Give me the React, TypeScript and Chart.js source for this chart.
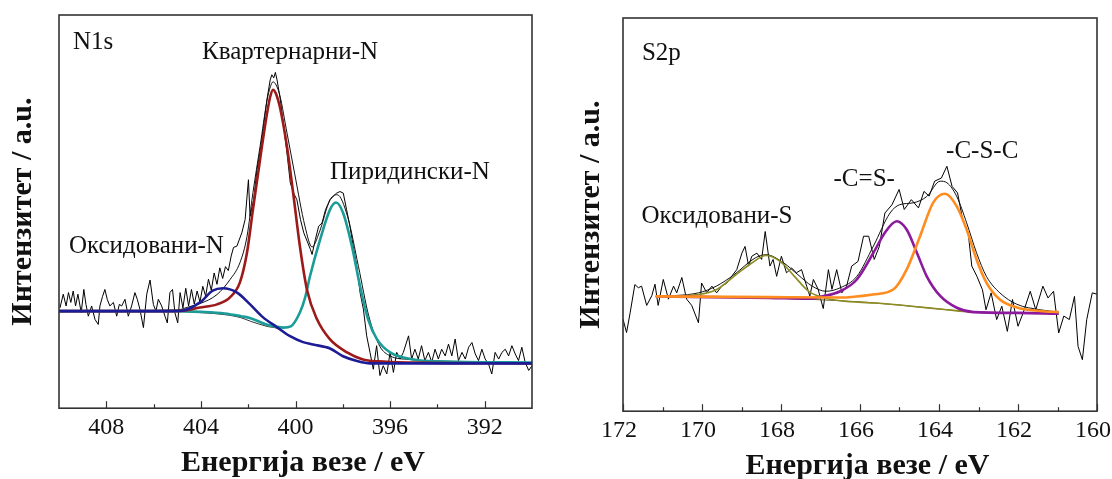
import React, { useEffect, useRef } from "react";
import { Chart, registerables } from "chart.js";

Chart.register(...registerables);

const SERIF = "'Liberation Serif', 'Times New Roman', 'DejaVu Serif', serif";

// ================= N1s (binding energy eV, intensity a.u.) =================
const n1sRaw: number[][] = [
  [409.96,25.5],[409.82,29.0],[409.7,26.0],[409.6,29.4],[409.5,26.9],[409.4,29.8],[409.3,26.0],[409.2,29.0],
  [409.06,24.3],[408.95,30.2],[408.86,26.4],[408.76,23.4],[408.62,26.0],[408.48,22.6],[408.34,21.3],[408.27,26.0],
  [408.16,28.4],[408.06,30.2],[407.96,27.7],[407.85,26.0],[407.7,26.9],[407.56,23.4],[407.45,26.4],[407.35,26.0],
  [407.21,27.7],[407.07,23.4],[406.93,26.0],[406.79,29.4],[406.69,27.7],[406.58,25.2],[406.43,20.5],[406.29,29.0],
  [406.15,32.6],[406.01,26.4],[405.9,24.7],[405.8,27.7],[405.66,26.0],[405.52,23.4],[405.42,21.7],[405.31,29.4],
  [405.2,30.2],[405.1,24.3],[404.98,21.7],[404.88,29.4],[404.76,25.5],[404.64,30.5],[404.52,26.0],[404.4,30.2],
  [404.28,26.5],[404.16,29.8],[404.04,27.0],[403.92,31.0],[403.8,28.5],[403.68,32.8],[403.56,30.0],[403.44,34.4],
  [403.32,31.5],[403.2,35.7],[403.08,33.0],[402.96,36.0],[402.84,35.0],[402.72,38.7],[402.62,40.9],[402.48,41.2],
  [402.27,44.6],[402.13,48.0],[401.99,58.1],[401.92,48.8],[401.77,53.0],[401.63,60.6],[401.49,65.7],[401.35,71.7],
  [401.21,78.4],[401.07,83.5],[401.0,84.8],[400.92,84.0],[400.85,85.4],[400.78,83.5],[400.64,78.4],[400.5,71.7],
  [400.36,64.9],[400.22,57.3],[400.08,54.7],[399.94,53.0],[399.79,48.0],[399.65,44.6],[399.51,42.5],[399.37,40.4],
  [399.3,39.1],[399.16,42.9],[399.02,46.3],[398.88,47.1],[398.73,50.5],[398.54,53.0],[398.4,53.9],[398.26,54.7],
  [398.12,55.1],[397.98,54.7],[397.84,50.5],[397.7,46.3],[397.56,41.2],[397.41,36.2],[397.27,29.4],[397.13,25.2],
  [396.99,18.4],[396.85,14.2],[396.71,9.9],[396.57,15.9],[396.43,8.3],[396.29,10.8],[396.14,8.7],[396.0,14.2],
  [395.86,9.1],[395.72,14.2],[395.58,12.5],[395.44,14.2],[395.22,18.4],[395.09,12.5],[394.95,15.0],[394.81,12.5],
  [394.67,15.9],[394.53,12.1],[394.38,14.2],[394.24,11.7],[394.1,15.0],[393.96,12.5],[393.82,15.0],[393.67,13.3],
  [393.53,16.3],[393.39,13.3],[393.25,17.6],[393.11,12.1],[392.96,14.2],[392.82,12.5],[392.68,15.5],[392.54,16.7],
  [392.4,13.8],[392.26,12.1],[392.12,15.0],[391.98,12.5],[391.84,11.3],[391.7,8.7],[391.56,14.2],[391.41,12.5],
  [391.27,14.2],[391.13,15.0],[390.99,13.3],[390.85,15.9],[390.71,13.8],[390.57,12.1],[390.43,15.5],[390.29,11.7],
  [390.14,9.6],[390.0,10.8],
];

const n1sEnvelope: number[][] = [
  [410,24.7],[405,25.0],[404.5,25.8],[404.04,26.6],[403.32,28.9],[402.77,32.7],[402.35,37.0],[402.05,43.7],
  [401.8,54.8],[401.5,66.5],[401.2,78.4],[401.06,81.8],[400.95,83.0],[400.82,82.2],[400.66,79.5],[400.36,70.0],
  [400.04,59.8],[399.6,46.3],[399.3,41.0],[399.0,44.6],[398.54,53.0],[398.24,54.3],[397.8,48.8],[397.34,36.1],
  [396.9,23.4],[396.44,15.8],[396.0,13.3],[395.2,12.4],[394,12.0],[390,11.6],
];

const n1sBaseline: number[][] = [
  [410,24.7],[405,24.6],[404,24.3],[403,23.8],[402.3,23.0],[401.9,22.1],[401.2,20.8],[400.78,20.3],
  [400.23,18.3],[399.68,16.8],[399.26,16.2],[398.54,15.2],[397.99,13.2],[397.4,12.0],[396.85,11.4],[390,11.4],
];

const n1sQuaternary: number[][] = [
  [410,24.7],[405,24.7],[404.04,25.6],[403.32,26.4],[402.77,28.2],[402.35,32.0],[402.05,39.6],[401.8,50.5],
  [401.5,63.2],[401.2,75.1],[401.07,79.2],[400.95,81.0],[400.82,79.9],[400.66,76.6],[400.36,66.5],[400.1,54.8],
  [399.81,41.0],[399.51,30.0],[399.09,22.6],[398.54,17.5],[397.82,14.2],[397.15,12.4],[396.5,11.9],[395,11.6],[390,11.4],
];

const n1sPyridinic: number[][] = [
  [410,24.7],[405,24.7],[404,24.5],[403,24.1],[402.3,23.4],[401.9,22.9],[401.2,21.2],[400.8,20.7],
  [400.5,20.5],[400.2,20.8],[399.81,24.4],[399.6,28.0],[399.39,33.5],[398.96,42.9],[398.54,50.5],[398.29,52.3],
  [397.99,49.7],[397.61,41.1],[397.27,31.0],[396.93,22.6],[396.55,17.5],[396.0,14.2],[395.0,12.4],[394,11.9],[390,11.6],
];

const n1sOxidized: number[][] = [
  [410,24.7],[405.5,24.7],[404.8,24.8],[404.04,26.9],[403.5,29.9],[403.07,30.5],[402.47,29.4],[401.92,26.4],
  [401.37,23.1],[400.78,20.6],[400.23,18.3],[399.68,16.8],[399.26,16.2],[398.54,15.2],[397.99,13.2],[397.4,12.0],
  [396.85,11.4],[390,11.4],
];

const n1sMajorTicks = [408, 404, 400, 396, 392];
const n1sMinorTicks = [406, 402, 398, 394];

const n1sLabels = [
  { text: "N1s", e: 409.41, i: 92.9 },
  { text: "Квартернарни-N", e: 403.95, i: 90.4 },
  { text: "Пиридински-N", e: 398.54, i: 59.9 },
  { text: "Оксидовани-N", e: 409.58, i: 41.1 },
];

// ================= S2p =================
const s2pRaw: number[][] = [
  [172.0,23.4],[171.91,20.0],[171.82,25.0],[171.7,32.2],[171.61,31.4],[171.53,31.8],[171.4,26.9],[171.27,29.4],
  [171.19,32.3],[171.11,26.9],[170.98,33.5],[170.85,28.5],[170.72,31.8],[170.64,30.1],[170.51,34.0],[170.39,28.5],
  [170.26,26.9],[170.09,22.5],[170.01,32.6],[169.88,30.1],[169.75,31.8],[169.63,30.1],[169.5,31.8],[169.37,32.6],
  [169.25,34.3],[169.12,36.0],[168.99,40.2],[168.91,41.9],[168.82,36.9],[168.74,39.4],[168.61,40.2],[168.49,38.6],
  [168.4,45.7],[168.28,36.9],[168.2,38.6],[168.11,34.3],[167.99,39.4],[167.86,35.2],[167.73,36.4],[167.61,35.2],
  [167.48,36.0],[167.35,31.8],[167.27,29.3],[167.18,33.5],[167.06,31.0],[166.93,26.1],[166.8,36.0],[166.71,31.0],
  [166.59,36.0],[166.46,30.1],[166.34,31.8],[166.21,36.9],[166.05,38.1],[165.91,44.5],[165.78,44.5],[165.64,38.6],
  [165.51,41.9],[165.37,50.4],[165.19,52.5],[165.01,56.4],[164.88,51.3],[164.7,53.8],[164.52,51.7],[164.38,55.9],
  [164.25,54.7],[164.11,58.5],[163.94,59.3],[163.8,62.3],[163.67,57.2],[163.53,55.5],[163.4,48.7],[163.26,45.3],
  [163.17,36.9],[163.04,34.3],[162.9,30.9],[162.81,25.8],[162.68,30.1],[162.54,23.3],[162.41,26.7],[162.27,20.3],
  [162.14,28.4],[162.0,21.6],[161.87,25.0],[161.69,30.5],[161.55,25.8],[161.37,31.8],[161.24,28.8],[161.1,30.5],
  [160.97,19.9],[160.84,24.2],[160.7,23.3],[160.57,29.2],[160.48,16.5],[160.37,13.1],[160.26,23.3],[160.12,30.1],
  [159.98,29.7],
];

const s2pEnvelope: number[][] = [
  [171.17,29.2],[170.09,30.1],[169.64,31.8],[169.19,34.7],[168.65,39.0],[168.38,39.8],[167.93,37.7],[167.57,34.7],
  [167.21,31.8],[166.86,30.5],[166.5,31.4],[166.08,34.3],[165.66,42.0],[165.24,50.4],[165.0,52.5],[164.65,53.0],
  [164.31,54.6],[163.97,58.5],[163.8,58.1],[163.55,54.6],[163.3,47.9],[163.05,40.3],[162.8,34.3],[162.46,30.1],
  [162.03,27.2],[161.44,25.8],[160.97,25.2],
];

const s2pBaseline: number[][] = [
  [171.17,29.2],[168.29,28.8],[166.5,28.1],[165.6,27.5],[164.7,26.7],[163.8,25.8],[163.08,25.2],[162.0,25.0],[160.97,24.8],
];

const s2pOxidized: number[][] = [
  [171.17,29.2],[170.09,29.7],[169.64,30.9],[169.19,34.3],[168.74,37.7],[168.38,39.6],[168.02,38.1],[167.66,34.3],
  [167.3,30.5],[166.95,29.0],[166.5,28.1],[165.6,27.5],[164.7,26.7],[163.8,25.8],[163.08,25.2],[162.0,25.0],[160.97,24.8],
];

const s2pThione: number[][] = [
  [171.17,29.2],[168.3,28.8],[167.3,28.6],[166.95,29.2],[166.5,30.5],[166.08,33.5],[165.66,40.3],[165.37,45.4],
  [165.07,48.3],[164.82,46.2],[164.56,40.3],[164.31,34.3],[163.97,29.3],[163.55,26.3],[163.13,25.2],[162.0,25.0],[160.97,24.8],
];

const s2pThioether: number[][] = [
  [171.17,29.2],[168.3,29.0],[166.5,28.9],[165.67,29.7],[165.15,31.0],[164.82,36.0],[164.48,44.5],[164.15,53.0],
  [163.85,55.3],[163.55,52.1],[163.3,46.2],[163.05,38.6],[162.8,32.7],[162.46,28.4],[162.03,26.4],[161.44,25.5],[160.97,25.2],
];

const s2pMajorTicks = [172, 170, 168, 166, 164, 162, 160];
const s2pMinorTicks = [171, 169, 167, 165, 163, 161];

const s2pLabels = [
  { text: "S2p", e: 171.52, i: 91.1 },
  { text: "Оксидовани-S", e: 171.53, i: 49.6 },
  { text: "-C=S-", e: 166.67, i: 58.9 },
  { text: "-C-S-C", e: 163.82, i: 66.1 },
];

// two leading spaces shift the centred title slightly right, as in the original
const X_TITLE = "  Енергија везе / eV";
const Y_TITLE = "Интензитет / a.u.";

type Series = { data: number[][]; color: string; width: number; smooth: boolean };

type PanelCfg = {
  left: number; top: number; width: number; height: number;
  xMin: number; xMax: number;
  major: number[]; minor: number[];
  labels: { text: string; e: number; i: number }[];
  series: Series[]; // top-most first
  pad: { left: number; top: number; right: number; bottom: number };
  yTitlePad: { top: number; bottom: number };
  labelOffset: number;
};

const panels: PanelCfg[] = [
  {
    left: 0, top: 0, width: 556, height: 479, xMin: 390, xMax: 410,
    major: n1sMajorTicks, minor: n1sMinorTicks, labels: n1sLabels,
    series: [
      { data: n1sOxidized, color: "#1c1c96", width: 2.6, smooth: true },
      { data: n1sQuaternary, color: "#9c1a1a", width: 2.6, smooth: true },
      { data: n1sPyridinic, color: "#1a9c98", width: 2.6, smooth: true },
      { data: n1sBaseline, color: "#333333", width: 1, smooth: true },
      { data: n1sEnvelope, color: "#111111", width: 1, smooth: true },
      { data: n1sRaw, color: "#000000", width: 1, smooth: false },
    ],
    pad: { left: 0, top: 15, right: 24, bottom: 0 },
    yTitlePad: { top: 5, bottom: 18 },
    labelOffset: 0,
  },
  {
    left: 556, top: 3, width: 574, height: 479, xMin: 160, xMax: 172,
    major: s2pMajorTicks, minor: s2pMinorTicks, labels: s2pLabels,
    series: [
      { data: s2pThioether, color: "#ff8c1e", width: 2.6, smooth: true },
      { data: s2pThione, color: "#8c1a9c", width: 2.6, smooth: true },
      { data: s2pOxidized, color: "#8c8c22", width: 1.6, smooth: true },
      { data: s2pBaseline, color: "#5a5a20", width: 1, smooth: true },
      { data: s2pEnvelope, color: "#111111", width: 1, smooth: true },
      { data: s2pRaw, color: "#000000", width: 1, smooth: false },
    ],
    pad: { left: 0, top: 15, right: 33, bottom: 0 },
    yTitlePad: { top: 17, bottom: 14 },
    labelOffset: -4,
  },
];

function makeOverlay(cfg: PanelCfg) {
  return {
    id: "frameTicksLabels",
    afterDatasetsDraw(chart: any) {
      const { ctx, chartArea: a } = chart;
      const xs = chart.scales.x;
      const ys = chart.scales.y;
      ctx.save();
      ctx.strokeStyle = "#333333";
      ctx.lineWidth = 1.2;
      const tick = (v: number, len: number) => {
        const px = Math.round(xs.getPixelForValue(v)) + 0.5;
        ctx.beginPath();
        ctx.moveTo(px, a.bottom);
        ctx.lineTo(px, a.bottom - len);
        ctx.stroke();
      };
      cfg.major.forEach((v) => tick(v, 7));
      cfg.minor.forEach((v) => tick(v, 4));
      ctx.lineWidth = 1.6;
      ctx.strokeRect(a.left, a.top, a.right - a.left, a.bottom - a.top);
      ctx.fillStyle = "#111111";
      ctx.font = `25px ${SERIF}`;
      ctx.textAlign = "left";
      ctx.textBaseline = "middle";
      cfg.labels.forEach((l) => {
        ctx.fillText(l.text, xs.getPixelForValue(l.e), ys.getPixelForValue(l.i));
      });
      ctx.restore();
    },
  };
}

function Panel({ cfg }: { cfg: PanelCfg }) {
  const ref = useRef<HTMLCanvasElement | null>(null);
  useEffect(() => {
    if (!ref.current) return;
    const allTicks = [...cfg.major, ...cfg.minor].sort((p, q) => q - p);
    const chart = new Chart(ref.current, {
      type: "line",
      data: {
        datasets: cfg.series.map((s) => ({
          data: s.data.map((p) => ({ x: p[0], y: p[1] })),
          borderColor: s.color,
          backgroundColor: s.color,
          borderWidth: s.width,
          pointRadius: 0,
          fill: false,
          tension: 0,
          cubicInterpolationMode: s.smooth ? "monotone" : "default",
        })) as any,
      },
      options: {
        responsive: false,
        animation: false,
        devicePixelRatio: 1,
        events: [],
        layout: { padding: cfg.pad },
        plugins: { legend: { display: false }, tooltip: { enabled: false }, title: { display: false } },
        scales: {
          x: {
            type: "linear",
            min: cfg.xMin,
            max: cfg.xMax,
            reverse: true,
            afterBuildTicks: (axis: any) => {
              axis.ticks = allTicks.map((v) => ({ value: v }));
            },
            grid: { display: false, drawTicks: false },
            border: { display: false },
            ticks: {
              autoSkip: false,
              maxRotation: 0,
              minRotation: 0,
              padding: 5.5,
              labelOffset: cfg.labelOffset,
              color: "#111111",
              font: { family: SERIF, size: 24, lineHeight: 1.2 },
              callback: (v: any) => (cfg.major.includes(Number(v)) ? String(v) : ""),
            },
            title: {
              display: true,
              text: X_TITLE,
              color: "#111111",
              font: { family: SERIF, size: 30, weight: "bold", lineHeight: 1 },
              padding: { top: 0, bottom: 1 },
            },
          },
          y: {
            type: "linear",
            min: 0,
            max: 100,
            grid: { display: false, drawTicks: false },
            border: { display: false },
            ticks: { display: false },
            title: {
              display: true,
              text: Y_TITLE,
              color: "#111111",
              font: { family: SERIF, size: 30, weight: "bold", lineHeight: 1.2 },
              padding: cfg.yTitlePad,
            },
          },
        },
      } as any,
      plugins: [makeOverlay(cfg)],
    });
    return () => chart.destroy();
  }, [cfg]);
  return (
    <div style={{ position: "absolute", left: cfg.left, top: cfg.top, width: cfg.width, height: cfg.height }}>
      <canvas ref={ref} width={cfg.width} height={cfg.height} style={{ display: "block", width: cfg.width, height: cfg.height }} />
    </div>
  );
}

export default function App() {
  return (
    <div style={{ position: "fixed", left: 0, top: 0, width: 1112, height: 479, overflow: "hidden", background: "#ffffff" }}>
      {panels.map((p, k) => (
        <Panel key={k} cfg={p} />
      ))}
    </div>
  );
}
